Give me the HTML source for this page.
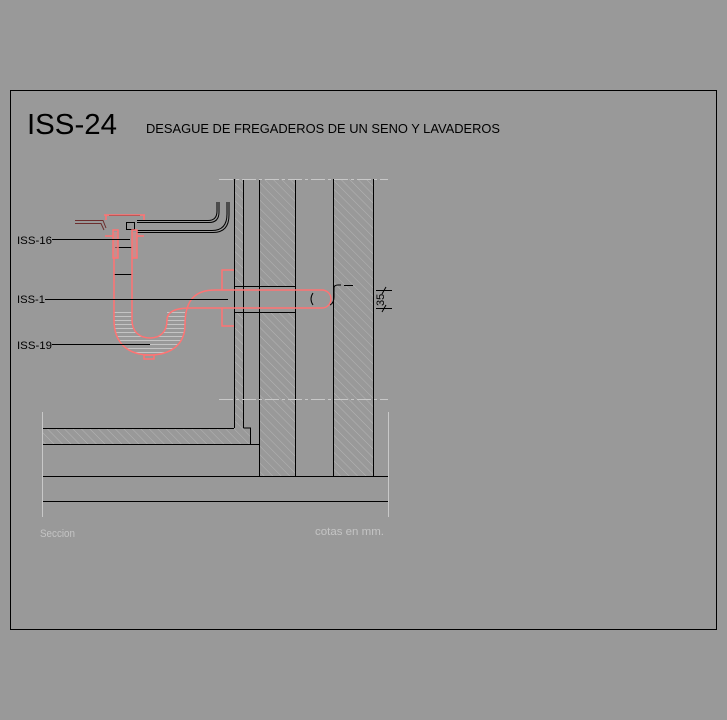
<!DOCTYPE html>
<html><head><style>
html,body{margin:0;padding:0;background:#999999;}
svg{display:block;}
text{font-family:"Liberation Sans",sans-serif;}
</style></head><body>
<svg width="727" height="720" viewBox="0 0 727 720" xmlns="http://www.w3.org/2000/svg">
<defs>
<pattern id="diag" width="6" height="6" patternUnits="userSpaceOnUse" patternTransform="rotate(-45)">
<line x1="0" y1="0" x2="0" y2="6" stroke="#b4b4b4" stroke-width="1"/>
</pattern>
<pattern id="hz" width="6" height="4" patternUnits="userSpaceOnUse">
<line x1="0" y1="0.5" x2="6" y2="0.5" stroke="#c4c4c4" stroke-width="1"/>
</pattern>
</defs>
<rect x="0" y="0" width="727" height="720" fill="#999999"/>
<rect x="10.5" y="90.5" width="706" height="539" fill="none" stroke="#000" stroke-width="1"/>

<text x="27" y="134" font-size="29" textLength="90" lengthAdjust="spacingAndGlyphs" fill="#000" font-weight="300">ISS-24</text>
<text x="146" y="133" font-size="13" textLength="354" lengthAdjust="spacingAndGlyphs" fill="#000">DESAGUE DE FREGADEROS DE UN SENO Y LAVADEROS</text>

<rect x="234" y="179" width="9" height="249" fill="url(#diag)"/>
<rect x="259" y="179" width="36" height="297" fill="url(#diag)"/>
<rect x="333" y="179" width="40" height="297" fill="url(#diag)"/>
<rect x="42" y="428" width="208" height="16" fill="url(#diag)"/>
<rect x="234" y="286" width="61" height="26" fill="#999999"/>

<g stroke="#000" stroke-width="1" fill="none">
<line x1="234.5" y1="179" x2="234.5" y2="428"/>
<line x1="243.5" y1="179" x2="243.5" y2="428"/>
<polyline points="243.5,428 250.5,428 250.5,444"/>
<line x1="259.5" y1="179" x2="259.5" y2="476"/>
<line x1="295.5" y1="179" x2="295.5" y2="476"/>
<line x1="333.5" y1="179" x2="333.5" y2="476"/>
<line x1="373.5" y1="179" x2="373.5" y2="476"/>
<line x1="42" y1="428.5" x2="234" y2="428.5"/>
<line x1="42" y1="444.5" x2="259" y2="444.5"/>
<line x1="42" y1="476.5" x2="388" y2="476.5"/>
<line x1="42" y1="501.5" x2="388" y2="501.5"/>
<line x1="234" y1="286.5" x2="295" y2="286.5"/>
<line x1="234" y1="312.5" x2="295" y2="312.5"/>
</g>
<g stroke="#c8c8c8" stroke-width="1" stroke-dasharray="14,3,3,3">
<line x1="219" y1="179.5" x2="388" y2="179.5"/>
<line x1="219" y1="399.5" x2="388" y2="399.5"/>
</g>
<g stroke="#c8c8c8" stroke-width="1">
<line x1="42.5" y1="412" x2="42.5" y2="517"/>
<line x1="388.5" y1="412" x2="388.5" y2="517"/>
</g>

<g stroke="#000" stroke-width="1" fill="none">
<path d="M137,220.5 H208 Q217,220.5 217,211 V202"/>
<path d="M137,222.5 H209 Q219,222.5 219,212 V202"/>
<path d="M137,230.5 H212 Q227,230.5 227,214 V202"/>
<path d="M137,232.5 H213 Q229,232.5 229,215 V202"/>
<rect x="126.5" y="222.5" width="8" height="7"/>
<line x1="109" y1="215.5" x2="140" y2="215.5"/>
<line x1="115" y1="247.5" x2="132" y2="247.5"/>
<line x1="114" y1="274.5" x2="132" y2="274.5"/>
<path d="M330,305 q4,-2 4,-8 v-9 q0,-3 4,-3 h3"/>
<line x1="344" y1="285.5" x2="353" y2="285.5"/>
</g>
<path d="M75,220.5 H103 L106,228" stroke="#6b2e2e" fill="none"/>
<path d="M75,223.5 H101 L104,230" stroke="#6b2e2e" fill="none"/>

<path d="M114,310 V320 C114,345 130,355 150,355 C170,355 185,345 185,325 V310 H167 V318 C167,332 160,338 150,338 C140,338 132,332 132,320 V310 Z" fill="url(#hz)"/>
<rect x="113" y="232" width="5" height="26" fill="#e08a8a" opacity="0.6"/>
<rect x="132" y="232" width="5" height="26" fill="#e08a8a" opacity="0.6"/>

<g stroke="#ff7373" stroke-width="1.5" fill="none">
<path d="M114,258 V320 C114,345 130,355 150,355 C170,355 185,345 185,325 C185,300 195,290 215,290 H322"/>
<path d="M132,258 V320 C132,332 140,338 150,338 C160,338 167,332 167,320 C167,312 175,308 190,308 H322"/>
<path d="M322,290 A9,9 0 0 1 322,308"/>
<path d="M234,270 H222 V290 M222,308 V326 H234"/>
<path d="M104,215 H145 M106,215 V220 M144,215 V220"/>
<rect x="113" y="230" width="5" height="28"/>
<rect x="132" y="230" width="5" height="28"/>
<path d="M105,236 H113 M137,236 H144"/>
<path d="M144,355 h10 v4 h-10 z"/>
</g>
<path d="M313,293 q-4,6 0,12" stroke="#000" fill="none"/>

<g stroke="#000" stroke-width="1">
<line x1="376" y1="290.5" x2="392" y2="290.5"/>
<line x1="376" y1="308.5" x2="392" y2="308.5"/>
<line x1="386" y1="287" x2="382" y2="294"/>
<line x1="386" y1="305" x2="382" y2="312"/>
</g>
<text x="0" y="0" font-size="11" fill="#000" transform="translate(384,306) rotate(-90)">35</text>

<g font-size="11" fill="#000">
<text x="17" y="244" textLength="35" lengthAdjust="spacingAndGlyphs">ISS-16</text>
<text x="17" y="303" textLength="28" lengthAdjust="spacingAndGlyphs">ISS-1</text>
<text x="17" y="349" textLength="35" lengthAdjust="spacingAndGlyphs">ISS-19</text>
</g>
<g stroke="#000" stroke-width="1">
<line x1="52" y1="239.5" x2="130" y2="239.5"/>
<line x1="45" y1="299.5" x2="228" y2="299.5"/>
<line x1="52" y1="344.5" x2="150" y2="344.5"/>
</g>

<text x="40" y="537" font-size="11" fill="#c4c4c4" textLength="35" lengthAdjust="spacingAndGlyphs">Seccion</text>
<text x="315" y="535" font-size="11" fill="#c4c4c4" textLength="69" lengthAdjust="spacingAndGlyphs">cotas en mm.</text>
</svg>
</body></html>
